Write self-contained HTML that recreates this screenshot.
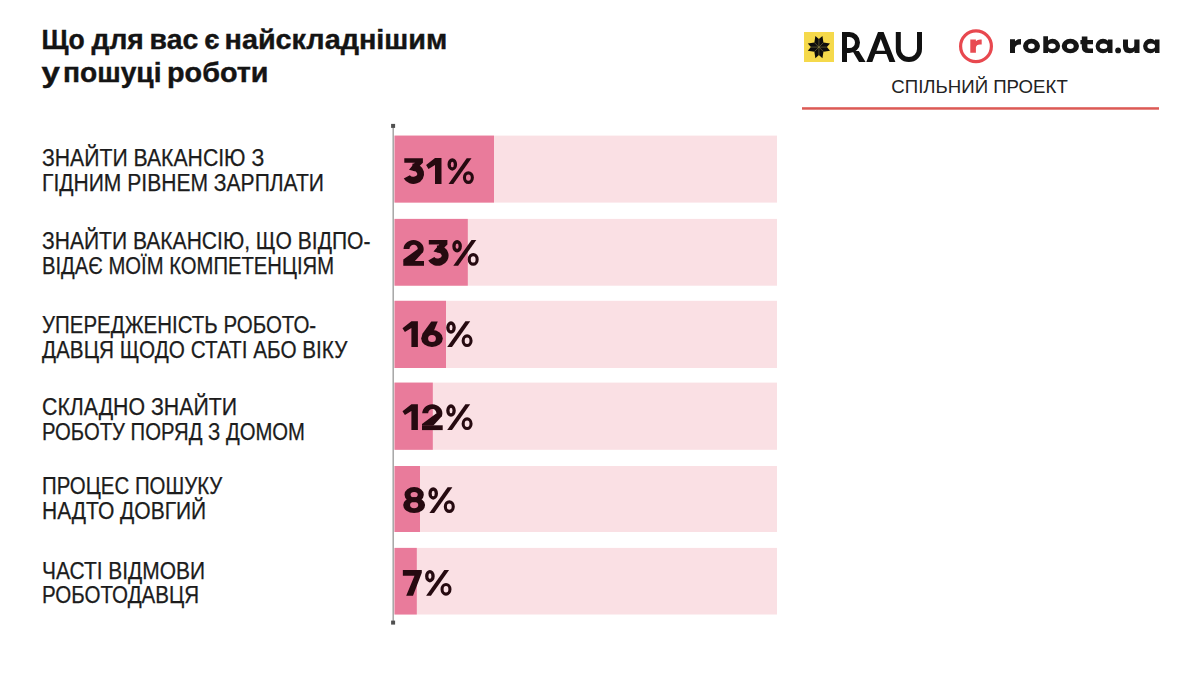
<!DOCTYPE html>
<html>
<head>
<meta charset="utf-8">
<style>
html,body{margin:0;padding:0;background:#fff;}
body{width:1200px;height:675px;overflow:hidden;}
svg{display:block;}
.lbl{font-family:"Liberation Sans",sans-serif;font-size:23px;fill:#1c1c1c;stroke:#1c1c1c;stroke-width:0.25;}
.ttl{font-family:"Liberation Sans",sans-serif;font-weight:bold;font-size:27px;fill:#141414;stroke:#141414;stroke-width:0.4;}
.pct{font-family:"Liberation Sans",sans-serif;font-weight:bold;font-size:37.8px;fill:#2a0a12;stroke:#2a0a12;stroke-width:1;}
</style>
</head>
<body>
<svg width="1200" height="675" viewBox="0 0 1200 675">
<rect width="1200" height="675" fill="#fff"/>
<!-- title -->
<text class="ttl" x="41.6" y="49" textLength="43.2" lengthAdjust="spacingAndGlyphs">Що</text>
<text class="ttl" x="91.6" y="49" textLength="52.2" lengthAdjust="spacingAndGlyphs">для</text>
<text class="ttl" x="149.6" y="49" textLength="48.6" lengthAdjust="spacingAndGlyphs">вас</text>
<text class="ttl" x="204.3" y="49" textLength="15.2" lengthAdjust="spacingAndGlyphs">є</text>
<text class="ttl" x="224.5" y="49" textLength="222.8" lengthAdjust="spacingAndGlyphs">найскладнішим</text>
<text class="ttl" x="41.4" y="82" textLength="18.4" lengthAdjust="spacingAndGlyphs">у</text>
<text class="ttl" x="63.0" y="82" textLength="98.5" lengthAdjust="spacingAndGlyphs">пошуці</text>
<text class="ttl" x="167.0" y="82" textLength="101.5" lengthAdjust="spacingAndGlyphs">роботи</text>

<!-- logos -->
<rect x="804" y="32" width="30" height="30" fill="#f5d94b"/>
<path fill="#0d0d0d" d="M818.90,47.10 L826.90,47.10 L830.00,43.56 L823.43,42.57Z M818.90,47.10 L826.90,47.10 L830.00,50.64 L823.43,51.63Z M818.90,47.10 L818.90,39.10 L815.36,36.00 L814.37,42.57Z M818.90,47.10 L818.90,39.10 L822.44,36.00 L823.43,42.57Z M818.90,47.10 L810.90,47.10 L807.80,50.64 L814.37,51.63Z M818.90,47.10 L810.90,47.10 L807.80,43.56 L814.37,42.57Z M818.90,47.10 L818.90,55.10 L822.44,58.20 L823.43,51.63Z M818.90,47.10 L818.90,55.10 L815.36,58.20 L814.37,51.63Z"/>
<g stroke="#a89a50" stroke-width="0.45"><path d="M811,47.1 H826.8 M818.9,39.2 V55 M814.4,42.6 L823.4,51.6 M823.4,42.6 L814.4,51.6"/></g>
<g fill="none" stroke="#111" stroke-width="5">
  <path d="M844.5,62 V34.5 H849.45 A8.05,8.05 0 0 1 849.45,50.6 H844.5"/>
  <path d="M898.3,32 V48.9 A10.6,10.6 0 0 0 919.5,48.9 V32"/>
</g>
<path fill="#111" d="M852.5,51 L858.8,51 L865.6,62 L859,62Z"/>
<path fill="#111" fill-rule="evenodd" d="M866.3,62 L878,32 L883.6,32 L895.4,62 L889.4,62 L886.4,54 L875.26,54 L872.3,62Z M876.44,50.8 L885.2,50.8 L880.8,39Z"/>

<circle cx="976" cy="46.2" r="15.4" fill="none" stroke="#e8484f" stroke-width="3.2"/>
<path fill="#e84b52" d="M970.3,52.7 V39.4 H975.9 V41.2 Q977.3,39.4 980.2,39.4 H981.7 V44.4 H980 Q976.3,44.4 975.9,47.5 V52.7Z"/>
<g fill="#161616" fill-rule="evenodd">
  <path d="M1010,53 V39.3 H1015 V41.3 Q1016.8,39.1 1021,39.1 V44.4 Q1016,44.3 1015,47.5 V53 Z"/>
  <path d="M1031.5,38.8 A8.5,7.25 0 1 1 1031.5,53.3 A8.5,7.25 0 1 1 1031.5,38.8 Z M1031.4,43.6 A3.3,2.7 0 1 0 1031.4,49 A3.3,2.7 0 1 0 1031.4,43.6 Z"/>
  <path d="M1043.3,36.3 H1048 V40.6 Q1049.8,38.8 1052.5,38.8 A7.6,7.25 0 1 1 1052.5,53.3 Q1049.8,53.3 1048,51.5 V53 H1043.3 Z M1052,43.6 A3.7,2.7 0 1 0 1052,49 A3.7,2.7 0 1 0 1052,43.6 Z"/>
  <path d="M1070.35,38.8 A8.65,7.25 0 1 1 1070.35,53.3 A8.65,7.25 0 1 1 1070.35,38.8 Z M1070.3,43.6 A3.4,2.7 0 1 0 1070.3,49 A3.4,2.7 0 1 0 1070.3,43.6 Z"/>
  <path d="M1081.8,36.4 H1087.4 V40.1 H1093 V44.3 H1087.4 V47.2 Q1087.4,48.5 1089.2,48.5 H1093 V53 H1088.5 Q1081.8,53 1081.8,47 V44.3 H1080.4 V40.1 H1081.8 Z"/>
  <path d="M1103,38.8 Q1106,38.8 1108,40.8 V39.5 H1112.5 V53 H1108 V51.3 Q1106,53.3 1103,53.3 A7.4,7.25 0 1 1 1103,38.8 Z M1103.5,43.6 A3.8,2.7 0 1 0 1103.5,49 A3.8,2.7 0 1 0 1103.5,43.6 Z"/>
  <circle cx="1118.1" cy="50.4" r="2.9"/>
  <path d="M1123,39.5 H1128 V45.8 Q1128,48.3 1131,48.3 Q1134.3,48.3 1134.3,45.3 V39.5 H1139.5 V53 H1134.5 V51.3 Q1132.6,53.3 1129.8,53.3 Q1123,53.3 1123,46.5 Z"/>
  <path d="M1150.5,38.8 Q1153,38.8 1155,40.8 V39.5 H1159.5 V53 H1155 V51.3 Q1153,53.3 1150.5,53.3 A7.4,7.25 0 1 1 1150.5,38.8 Z M1151.2,43.6 A3.8,2.7 0 1 0 1151.2,49 A3.8,2.7 0 1 0 1151.2,43.6 Z"/>
</g>
<text x="891.3" y="92.5" textLength="176.5" lengthAdjust="spacingAndGlyphs" style="font-family:'Liberation Sans',sans-serif;font-size:18.9px;fill:#222">СПІЛЬНИЙ ПРОЕКТ</text>
<rect x="802" y="107.2" width="357" height="2.5" fill="#dc5a55"/>

<!-- bars -->
<g fill="#fae0e4">
  <rect x="394.5" y="135.6" width="382.5" height="67"/>
  <rect x="394.5" y="218.9" width="382.5" height="66.8"/>
  <rect x="394.5" y="300.8" width="382.5" height="67.2"/>
  <rect x="394.5" y="382.6" width="382.5" height="67.2"/>
  <rect x="394.5" y="466" width="382.5" height="66"/>
  <rect x="394.5" y="547.9" width="382.5" height="66.6"/>
</g>
<g fill="#e97b9b">
  <rect x="394.5" y="135.6" width="99.5" height="67"/>
  <rect x="394.5" y="218.9" width="73.3" height="66.8"/>
  <rect x="394.5" y="300.8" width="51.5" height="67.2"/>
  <rect x="394.5" y="382.6" width="38.3" height="67.2"/>
  <rect x="394.5" y="466" width="25.5" height="66"/>
  <rect x="394.5" y="547.9" width="22.3" height="66.6"/>
</g>
<!-- axis -->
<rect x="392.6" y="126" width="1.1" height="496" fill="#858585"/>
<rect x="391.1" y="123.9" width="4" height="4" fill="#505050"/>
<rect x="391.1" y="620.6" width="4" height="4" fill="#505050"/>

<!-- percents -->
<g fill="#260a10" >
<g transform="translate(403,184)"><path d="M1.3,-25.8 L19.9,-25.8 L19.9,-21.2 L14.5,-16 L10,-13.2 L6,-14.3 L11.8,-21.2 L1.3,-21.2 Z"/><path d="M9.36,-20.36 A10.8,10.2 0 1 1 0.76,-5.41 L6.86,-8.84 A3.9,2.9 0 1 0 9.96,-13.09 Z"/></g>
<g transform="translate(426.1,184)"><path d="M8.9,-25.9 L15.4,-25.9 L15.4,0 L8.9,0 L8.9,-19.1 L2.4,-15 L0,-18.9 Z"/></g>
<g transform="translate(447.5,184)"><path d="M4.8,-25.8 A4.8,6.25 0 1 1 4.8,-13.3 A4.8,6.25 0 1 1 4.8,-25.8 Z M4.8,-22.35 A1.5,2.8 0 1 0 4.8,-16.75 A1.5,2.8 0 1 0 4.8,-22.35 Z"/><path d="M20.9,-12.8 A5.5,6.4 0 1 1 20.9,0 A5.5,6.4 0 1 1 20.9,-12.8 Z M20.9,-9.6 A2.4,3.2 0 1 0 20.9,-3.2 A2.4,3.2 0 1 0 20.9,-9.6 Z"/><path d="M1,0 L5.8,0 L24,-25.8 L19.2,-25.8 Z"/></g>
<g transform="translate(403.3,265.8)"><path d="M0,-4.8 L20.7,-4.8 L20.7,0 L0,0 Z"/><path d="M0.2,-16.8 A10.1,9 0 1 1 19.45,-13 L14.06,-14.98 A4.15,4.3 0 1 0 6.15,-16.8 Z"/><path d="M14.2,-16.5 L19.6,-13.5 L11.4,-4.6 L0,-4.6 L0,-6.2 Z"/></g>
<g transform="translate(427.5,265.8)"><path d="M1.3,-25.8 L19.9,-25.8 L19.9,-21.2 L14.5,-16 L10,-13.2 L6,-14.3 L11.8,-21.2 L1.3,-21.2 Z"/><path d="M9.36,-20.36 A10.8,10.2 0 1 1 0.76,-5.41 L6.86,-8.84 A3.9,2.9 0 1 0 9.96,-13.09 Z"/></g>
<g transform="translate(452.3,265.8)"><path d="M4.8,-25.8 A4.8,6.25 0 1 1 4.8,-13.3 A4.8,6.25 0 1 1 4.8,-25.8 Z M4.8,-22.35 A1.5,2.8 0 1 0 4.8,-16.75 A1.5,2.8 0 1 0 4.8,-22.35 Z"/><path d="M20.9,-12.8 A5.5,6.4 0 1 1 20.9,0 A5.5,6.4 0 1 1 20.9,-12.8 Z M20.9,-9.6 A2.4,3.2 0 1 0 20.9,-3.2 A2.4,3.2 0 1 0 20.9,-9.6 Z"/><path d="M1,0 L5.8,0 L24,-25.8 L19.2,-25.8 Z"/></g>
<g transform="translate(402.5,347.1)"><path d="M8.9,-25.9 L15.4,-25.9 L15.4,0 L8.9,0 L8.9,-19.1 L2.4,-15 L0,-18.9 Z"/></g>
<g transform="translate(421.2,347.1)"><path d="M10.8,-17 A10.8,8.5 0 1 1 10.8,0 A10.8,8.5 0 1 1 10.8,-17 Z M10.8,-12 A3.9,3.5 0 1 0 10.8,-5 A3.9,3.5 0 1 0 10.8,-12 Z"/><path d="M10.1,-25.7 L16.55,-25.7 L12.8,-16.6 L0.4,-7.8 L1.4,-13.5 Z"/></g>
<g transform="translate(446.2,347.1)"><path d="M4.8,-25.8 A4.8,6.25 0 1 1 4.8,-13.3 A4.8,6.25 0 1 1 4.8,-25.8 Z M4.8,-22.35 A1.5,2.8 0 1 0 4.8,-16.75 A1.5,2.8 0 1 0 4.8,-22.35 Z"/><path d="M20.9,-12.8 A5.5,6.4 0 1 1 20.9,0 A5.5,6.4 0 1 1 20.9,-12.8 Z M20.9,-9.6 A2.4,3.2 0 1 0 20.9,-3.2 A2.4,3.2 0 1 0 20.9,-9.6 Z"/><path d="M1,0 L5.8,0 L24,-25.8 L19.2,-25.8 Z"/></g>
<g transform="translate(402.5,430.1)"><path d="M8.9,-25.9 L15.4,-25.9 L15.4,0 L8.9,0 L8.9,-19.1 L2.4,-15 L0,-18.9 Z"/></g>
<g transform="translate(422,430.1)"><path d="M0,-4.8 L20.7,-4.8 L20.7,0 L0,0 Z"/><path d="M0.2,-16.8 A10.1,9 0 1 1 19.45,-13 L14.06,-14.98 A4.15,4.3 0 1 0 6.15,-16.8 Z"/><path d="M14.2,-16.5 L19.6,-13.5 L11.4,-4.6 L0,-4.6 L0,-6.2 Z"/></g>
<g transform="translate(446.2,430.1)"><path d="M4.8,-25.8 A4.8,6.25 0 1 1 4.8,-13.3 A4.8,6.25 0 1 1 4.8,-25.8 Z M4.8,-22.35 A1.5,2.8 0 1 0 4.8,-16.75 A1.5,2.8 0 1 0 4.8,-22.35 Z"/><path d="M20.9,-12.8 A5.5,6.4 0 1 1 20.9,0 A5.5,6.4 0 1 1 20.9,-12.8 Z M20.9,-9.6 A2.4,3.2 0 1 0 20.9,-3.2 A2.4,3.2 0 1 0 20.9,-9.6 Z"/><path d="M1,0 L5.8,0 L24,-25.8 L19.2,-25.8 Z"/></g>
<g transform="translate(403.2,513)"><path d="M10.95,-25.9 A9.65,7.55 0 1 1 10.95,-10.8 A9.65,7.55 0 1 1 10.95,-25.9 Z M10.95,-20.9 A3.6,2.55 0 1 0 10.95,-15.8 A3.6,2.55 0 1 0 10.95,-20.9 Z"/><path d="M10.95,-15.8 A10.95,7.9 0 1 1 10.95,0 A10.95,7.9 0 1 1 10.95,-15.8 Z M10.95,-11 A4.1,3.1 0 1 0 10.95,-4.8 A4.1,3.1 0 1 0 10.95,-11 Z"/></g>
<g transform="translate(428.4,513)"><path d="M4.8,-25.8 A4.8,6.25 0 1 1 4.8,-13.3 A4.8,6.25 0 1 1 4.8,-25.8 Z M4.8,-22.35 A1.5,2.8 0 1 0 4.8,-16.75 A1.5,2.8 0 1 0 4.8,-22.35 Z"/><path d="M20.9,-12.8 A5.5,6.4 0 1 1 20.9,0 A5.5,6.4 0 1 1 20.9,-12.8 Z M20.9,-9.6 A2.4,3.2 0 1 0 20.9,-3.2 A2.4,3.2 0 1 0 20.9,-9.6 Z"/><path d="M1,0 L5.8,0 L24,-25.8 L19.2,-25.8 Z"/></g>
<g transform="translate(402.85,595.7)"><path d="M0,-25.6 L18.95,-25.6 L18.95,-23 L10.15,0 L3.35,0 L11.65,-19.9 L0,-19.9 Z"/></g>
<g transform="translate(425.1,595.7)"><path d="M4.8,-25.8 A4.8,6.25 0 1 1 4.8,-13.3 A4.8,6.25 0 1 1 4.8,-25.8 Z M4.8,-22.35 A1.5,2.8 0 1 0 4.8,-16.75 A1.5,2.8 0 1 0 4.8,-22.35 Z"/><path d="M20.9,-12.8 A5.5,6.4 0 1 1 20.9,0 A5.5,6.4 0 1 1 20.9,-12.8 Z M20.9,-9.6 A2.4,3.2 0 1 0 20.9,-3.2 A2.4,3.2 0 1 0 20.9,-9.6 Z"/><path d="M1,0 L5.8,0 L24,-25.8 L19.2,-25.8 Z"/></g>
</g>

<!-- labels -->
<text class="lbl" x="42" y="166" textLength="222.2" lengthAdjust="spacingAndGlyphs">ЗНАЙТИ ВАКАНСІЮ З</text>
<text class="lbl" x="42" y="190.5" textLength="282" lengthAdjust="spacingAndGlyphs">ГІДНИМ РІВНЕМ ЗАРПЛАТИ</text>
<text class="lbl" x="42" y="249.1" textLength="328.5" lengthAdjust="spacingAndGlyphs">ЗНАЙТИ ВАКАНСІЮ, ЩО ВІДПО-</text>
<text class="lbl" x="42" y="273.6" textLength="292" lengthAdjust="spacingAndGlyphs">ВІДАЄ МОЇМ КОМПЕТЕНЦІЯМ</text>
<text class="lbl" x="42" y="333" textLength="274.2" lengthAdjust="spacingAndGlyphs">УПЕРЕДЖЕНІСТЬ РОБОТО-</text>
<text class="lbl" x="42" y="357.5" textLength="305.3" lengthAdjust="spacingAndGlyphs">ДАВЦЯ ЩОДО СТАТІ АБО ВІКУ</text>
<text class="lbl" x="42" y="415.1" textLength="195.1" lengthAdjust="spacingAndGlyphs">СКЛАДНО ЗНАЙТИ</text>
<text class="lbl" x="42" y="439.6" textLength="263" lengthAdjust="spacingAndGlyphs">РОБОТУ ПОРЯД З ДОМОМ</text>
<text class="lbl" x="42" y="494" textLength="180.3" lengthAdjust="spacingAndGlyphs">ПРОЦЕС ПОШУКУ</text>
<text class="lbl" x="42" y="518.6" textLength="164.2" lengthAdjust="spacingAndGlyphs">НАДТО ДОВГИЙ</text>
<text class="lbl" x="42" y="578.7" textLength="163" lengthAdjust="spacingAndGlyphs">ЧАСТІ ВІДМОВИ</text>
<text class="lbl" x="42" y="603.3" textLength="157" lengthAdjust="spacingAndGlyphs">РОБОТОДАВЦЯ</text>
</svg>
</body>
</html>
